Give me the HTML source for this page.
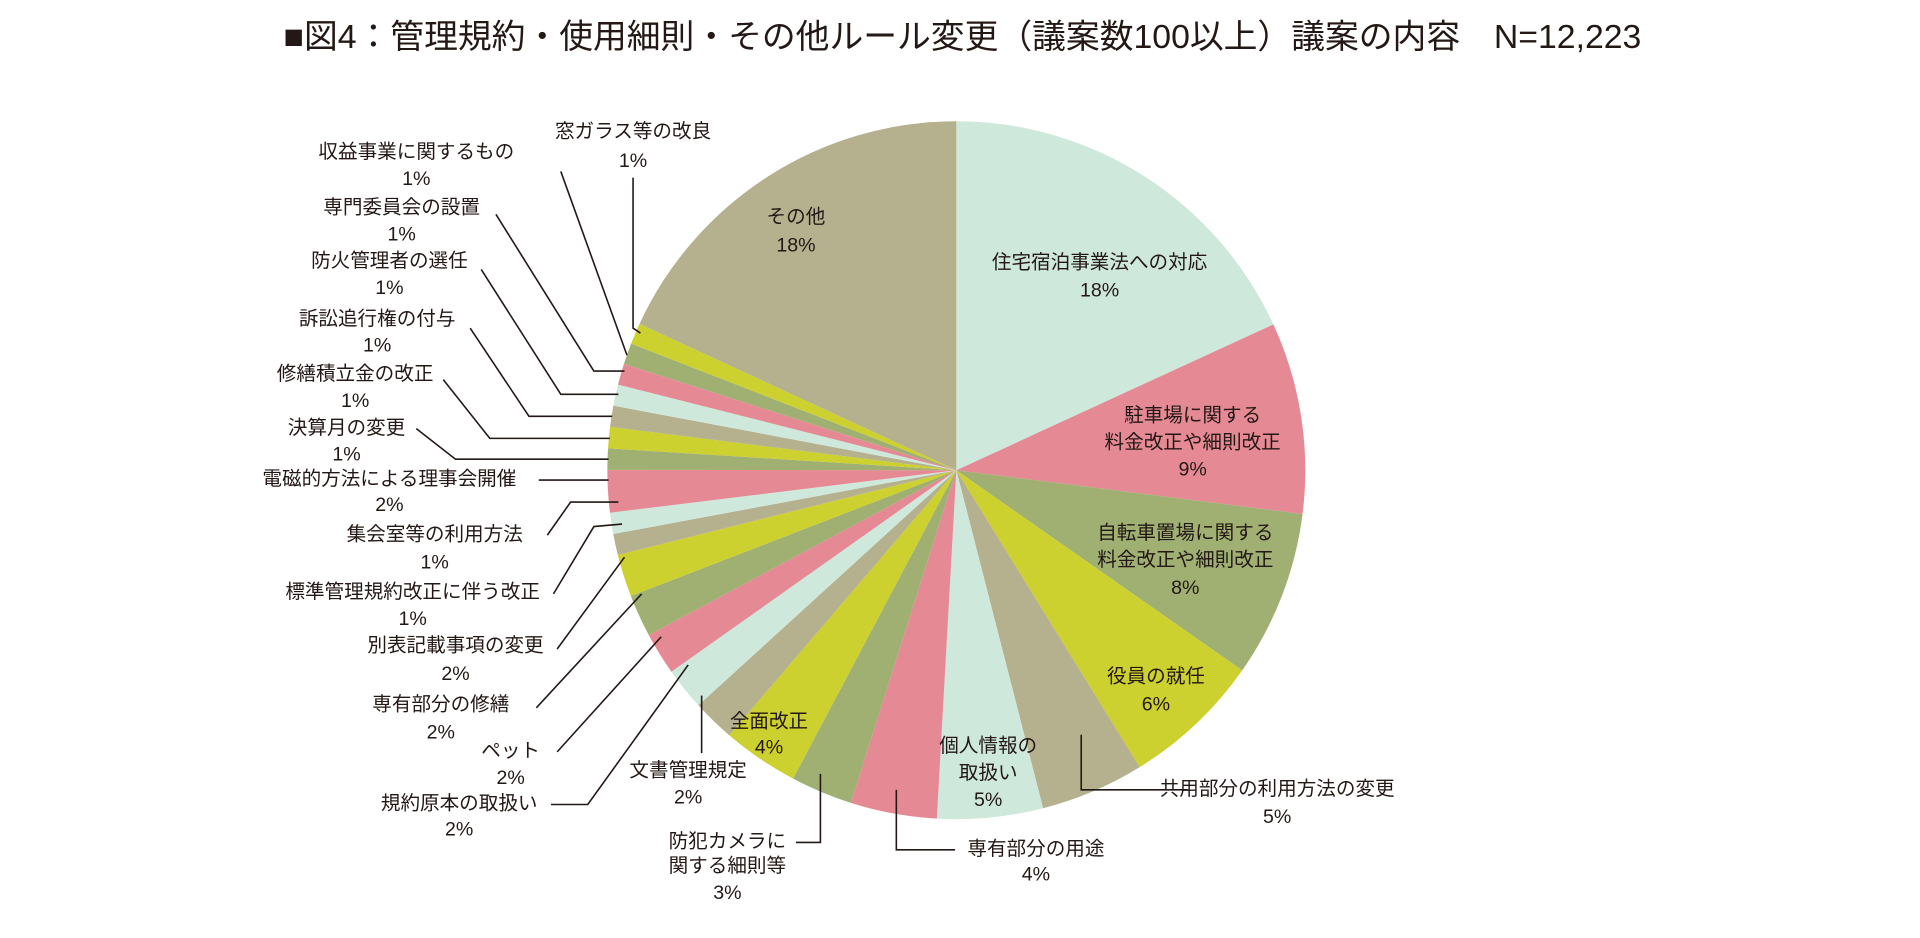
<!DOCTYPE html>
<html><head><meta charset="utf-8"><style>
html,body{margin:0;padding:0;background:#fff;}
svg{display:block}
text{font-family:"Liberation Sans","Noto Sans CJK JP",sans-serif;fill:#231815;}
</style></head><body>
<svg id="s" width="1920" height="938" viewBox="0 0 1568 766" xmlns="http://www.w3.org/2000/svg">
<text x="786" y="32" font-size="27.6" text-anchor="middle" dominant-baseline="middle">■図4：管理規約・使用細則・その他ルール変更（議案数100以上）議案の内容　N=12,223</text>
<g id="pie"></g>
<g stroke="#231815" stroke-width="1.3" fill="none">
<polyline points="517,145 517,268 523,272"/>
<polyline points="458,140 512,290"/>
<polyline points="405,175 485,303 510,303"/>
<polyline points="393,220 458,322 505,322"/>
<polyline points="384,268 432,340 500,340"/>
<polyline points="362,310 400,358 498,358"/>
<polyline points="340,350 372,375 497,375"/>
<polyline points="440,392 497,392"/>
<polyline points="447,437 466,410 505,410"/>
<polyline points="452,485 485,430 508,428"/>
<polyline points="455,530 510,455"/>
<polyline points="438,578 524,485"/>
<polyline points="455,614 540,520"/>
<polyline points="450,657 480,657 562,543"/>
<polyline points="573,615 573,568"/>
<polyline points="650,688 670,688 670,632"/>
<polyline points="780,694 732,694 732,645"/>
<polyline points="970,645 883,645 883,600"/>
</g>
<g font-size="16" text-anchor="middle" dominant-baseline="middle" id="labels"></g>
</svg>
<script>
var cols=["#cfe8dc","#e58a94","#9fb072","#cdd12f","#b5b08e"];
var b=[0,65.3,97.2,125,148.3,165.6,183.2,197.6,207.9,220.6];
var small=[2,2,2,2,2,1,1,2,1,1,1,1,1,1,1];
var k=74.2/21,a=220.6;
small.forEach(function(p){a+=p*k;b.push(a);});
b.push(360);
var cx=781,cy=384,r=285,g=document.getElementById('pie'),h='';
var tc=[0,1,2,3,4,0,1,2,3,4,0,1,2,3,4,0,1,2,3,4,0,1,2,3,4];
for(var i=0;i<b.length-1;i++){
 var a0=b[i]*Math.PI/180,a1=b[i+1]*Math.PI/180;
 var x0=cx+r*Math.sin(a0),y0=cy-r*Math.cos(a0),x1=cx+r*Math.sin(a1),y1=cy-r*Math.cos(a1);
 var lg=(b[i+1]-b[i])>180?1:0;
 h+='<path d="M'+cx+','+cy+' L'+x0+','+y0+' A'+r+','+r+' 0 '+lg+' 1 '+x1+','+y1+' Z" fill="'+cols[tc[i]]+'"/>';
}
g.innerHTML=h;
var L=[[650,178,"その他"],[650,201,"18%"],[898,215,"住宅宿泊事業法への対応"],[898,238,"18%"],
[974,340,"駐車場に関する"],[974,362,"料金改正や細則改正"],[974,384,"9%"],
[968,436,"自転車置場に関する"],[968,458,"料金改正や細則改正"],[968,481,"8%"],
[944,553,"役員の就任"],[944,576,"6%"],[807,610,"個人情報の"],[807,632,"取扱い"],[807,654,"5%"],
[628,590,"全面改正"],[628,611,"4%"],
[517,108,"窓ガラス等の改良"],[517,132,"1%"],[340,125,"収益事業に関するもの"],[340,147,"1%"],
[328,170,"専門委員会の設置"],[328,192,"1%"],[318,214,"防火管理者の選任"],[318,236,"1%"],
[308,261,"訴訟追行権の付与"],[308,283,"1%"],[290,306,"修繕積立金の改正"],[290,328,"1%"],
[283,350,"決算月の変更"],[283,372,"1%"],[318,392,"電磁的方法による理事会開催"],[318,413,"2%"],
[355,437,"集会室等の利用方法"],[355,460,"1%"],[337,484,"標準管理規約改正に伴う改正"],[337,506,"1%"],
[372,528,"別表記載事項の変更"],[372,551,"2%"],[360,576,"専有部分の修繕"],[360,599,"2%"],
[417,614,"ペット"],[417,636,"2%"],[375,657,"規約原本の取扱い"],[375,678,"2%"],
[562,630,"文書管理規定"],[562,652,"2%"],[594,688,"防犯カメラに"],[594,708,"関する細則等"],[594,730,"3%"],
[846,694,"専有部分の用途"],[846,715,"4%"],[1043,645,"共用部分の利用方法の変更"],[1043,668,"5%"]];
var t='';L.forEach(function(l){t+='<text x="'+l[0]+'" y="'+l[1]+'">'+l[2]+'</text>';});
document.getElementById('labels').innerHTML=t;
</script>
</body></html>
